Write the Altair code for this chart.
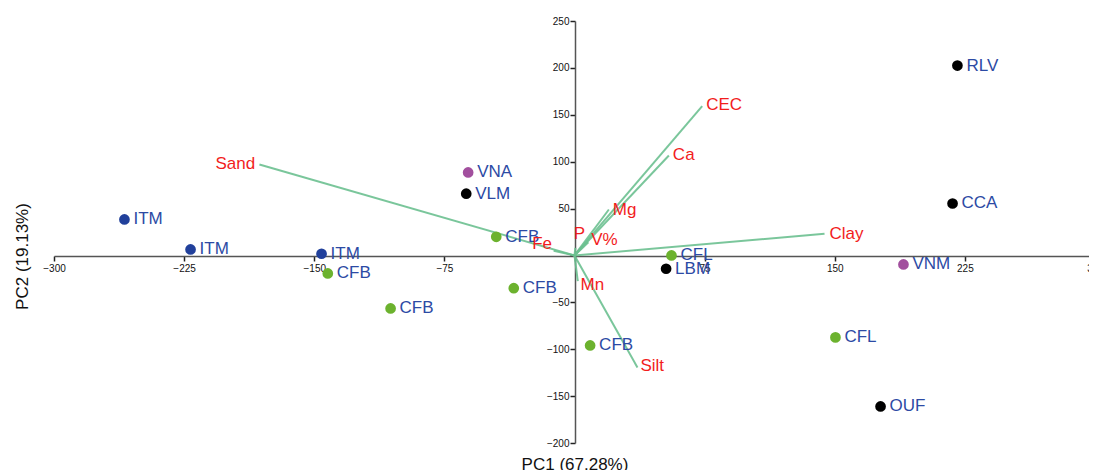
import altair as alt
import pandas as pd

# ---- sample scores ----
sample_names = ["RLV", "CCA", "VNM", "CFL", "OUF", "CFL", "LBM", "VNA", "VLM",
                "CFB", "CFB", "CFB", "CFB", "CFB", "ITM", "ITM", "ITM"]
pc1_scores = [220.7, 217.9, 189.6, 150.4, 176.4, 55.9, 52.8, -61.3, -62.4,
              -45.1, -35.0, 9.0, -106.0, -142.2, -145.8, -221.3, -259.4]
pc2_scores = [202.5, 55.4, -9.6, -87.4, -161.0, 0.0, -14.2, 88.5, 65.8,
              19.9, -34.9, -96.0, -56.5, -19.2, 1.8, 6.4, 38.4]
sample_groups = ["G1", "G1", "G2", "G3", "G1", "G3", "G1", "G2", "G1",
                 "G3", "G3", "G3", "G3", "G3", "G4", "G4", "G4"]
group_names = ["G1", "G2", "G3", "G4"]
group_colors = ["#000000", "#a24f9e", "#6cb22e", "#21409b"]

# ---- variable loadings ----
var_names = ["Sand", "CEC", "Ca", "Mg", "Clay", "Silt", "Mn", "Fe", "P", "V%"]
load_x = [-181.6, 73.6, 54.4, 19.8, 144.1, 36.3, 1.9, -12.0, 0.5, 8.0]
load_y = [97.0, 159.2, 106.6, 49.0, 23.1, -119.4, -27.4, 5.0, 8.0, 14.0]
label_x = [-206.9, 75.9, 56.7, 22.1, 147.0, 38.0, 3.5, -24.4, -0.4, 9.6]
label_y = [97.0, 160.2, 106.6, 48.3, 23.1, -118.3, -31.7, 12.5, 23.1, 16.0]

x_ticks = [-300, -225, -150, -75, 0, 75, 150, 225, 300]
y_ticks = [-200, -150, -100, -50, 0, 50, 100, 150, 200, 250]

pts = pd.DataFrame({"name": sample_names, "pc1": pc1_scores,
                    "pc2": pc2_scores, "group": sample_groups})
vec = pd.DataFrame({"var": var_names, "x0": [0.0] * len(var_names),
                    "y0": [0.0] * len(var_names), "x": load_x, "y": load_y,
                    "lx": label_x, "ly": label_y})

FONT = "Liberation Sans"
W, H = 1041, 422

xscale = alt.Scale(domain=[-300, 300], nice=False, zero=False)
yscale = alt.Scale(domain=[-200, 250], nice=False, zero=False)

xaxis = alt.Axis(values=x_ticks, labelExpr="datum.value == 0 ? '' : datum.label",
                 offset=-187, grid=False, domainColor="#555555", domainWidth=1.5,
                 tickColor="#222222", tickWidth=1.5, tickSize=5, labelFontSize=10,
                 labelColor="#111111", labelFont=FONT, labelFlush=False,
                 labelOverlap=False, labelPadding=2,
                 title="PC1 (67.28%)", titleFontSize=17, titleFontWeight="normal",
                 titleFont=FONT, titleColor="#111111", titleY=200,
                 titleBaseline="top")
yaxis = alt.Axis(values=y_ticks, labelExpr="datum.value == 0 ? '' : datum.label",
                 offset=-521, grid=False, domainColor="#555555", domainWidth=1.5,
                 tickColor="#222222", tickWidth=1.5, tickSize=5, labelFontSize=10,
                 labelColor="#111111", labelFont=FONT, labelFlush=False,
                 labelOverlap=False, labelPadding=1,
                 title="PC2 (19.13%)", titleFontSize=17, titleFontWeight="normal",
                 titleFont=FONT, titleColor="#111111", titleX=-553, titleY=235,
                 titleAngle=270, titleAlign="center", titleBaseline="middle")

vectors = alt.Chart(vec).mark_rule(color="#6cc090", strokeWidth=2, opacity=0.9).encode(
    x=alt.X("x0:Q", scale=xscale, axis=xaxis),
    y=alt.Y("y0:Q", scale=yscale, axis=yaxis),
    x2="x:Q", y2="y:Q",
)

vec_labels = alt.Chart(vec).mark_text(
    align="left", baseline="middle", font=FONT, fontSize=17, color="#f21d1d"
).encode(
    x=alt.X("lx:Q", scale=xscale, axis=xaxis),
    y=alt.Y("ly:Q", scale=yscale, axis=yaxis),
    text="var:N",
)

points = alt.Chart(pts).mark_circle(size=115, opacity=1).encode(
    x=alt.X("pc1:Q", scale=xscale, axis=xaxis),
    y=alt.Y("pc2:Q", scale=yscale, axis=yaxis),
    color=alt.Color("group:N", scale=alt.Scale(domain=group_names, range=group_colors),
                    legend=None),
)

pt_labels = alt.Chart(pts).mark_text(
    align="left", baseline="middle", dx=9, font=FONT, fontSize=17, color="#2c4aa4"
).encode(
    x=alt.X("pc1:Q", scale=xscale, axis=xaxis),
    y=alt.Y("pc2:Q", scale=yscale, axis=yaxis),
    text="name:N",
)

chart = alt.layer(vectors, points, pt_labels, vec_labels).properties(
    width=W, height=H,
    autosize=alt.AutoSizeParams(type="none"),
    padding={"left": 46, "top": 13, "right": -6, "bottom": 27},
).configure(background="white", view=alt.ViewConfig(stroke=None))

chart.save("out.html", embed_options={"renderer": "svg", "actions": False})
